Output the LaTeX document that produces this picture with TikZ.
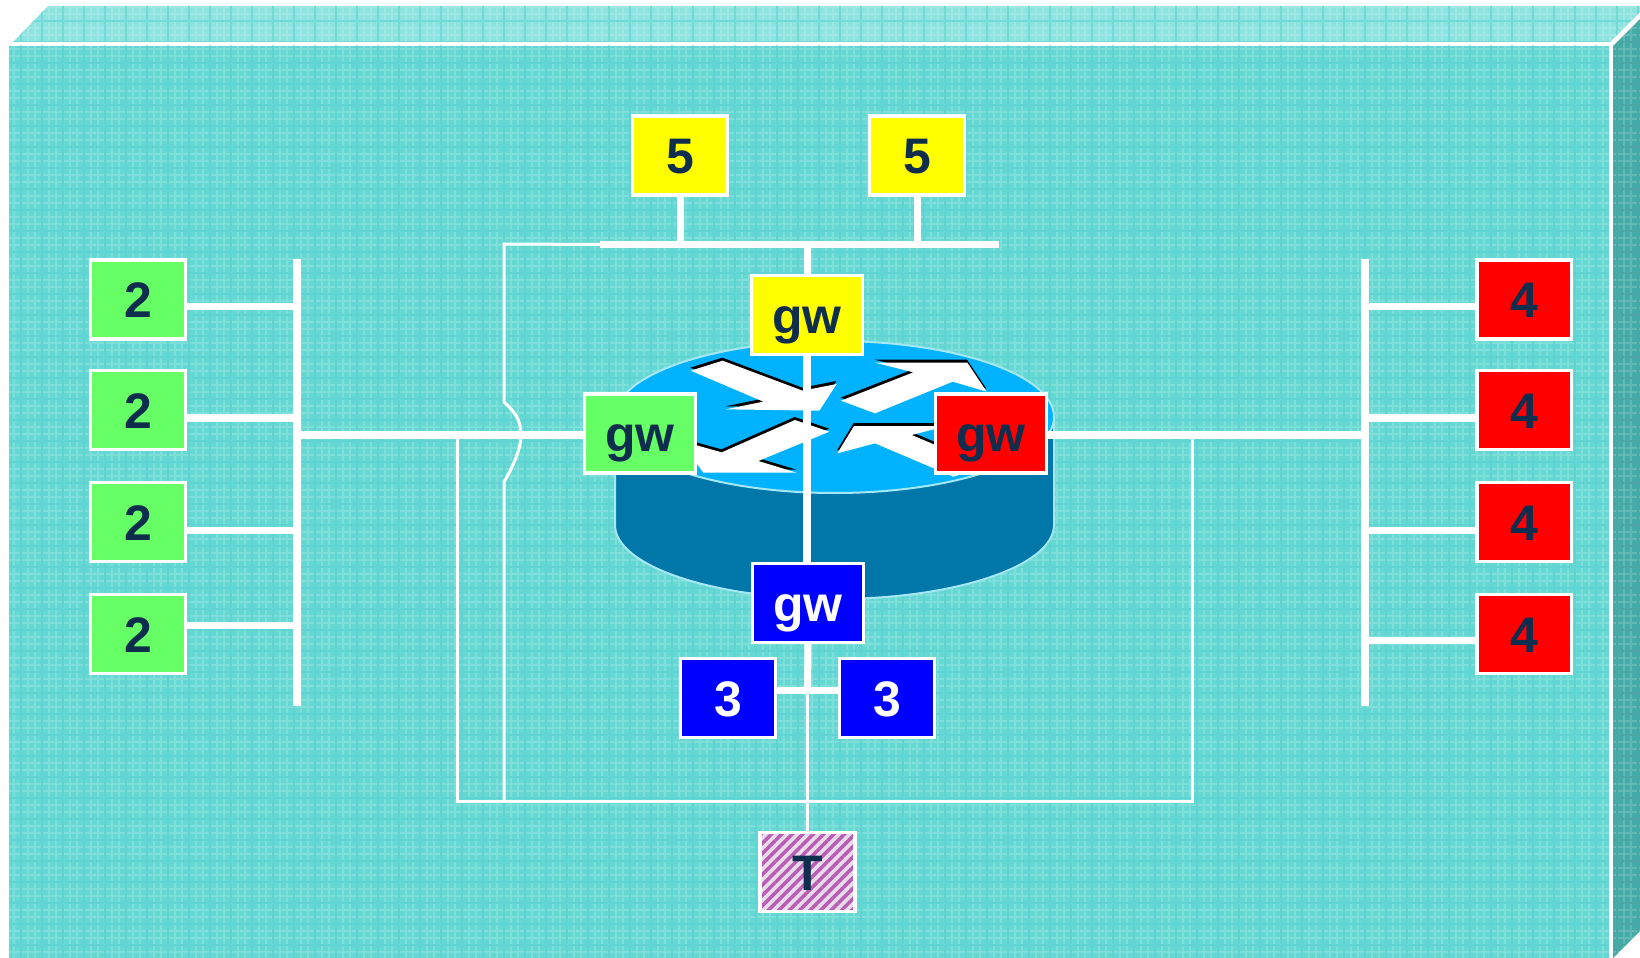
\documentclass[tikz,border=0pt]{standalone}
\usepackage{fontspec}
\setmainfont{Liberation Sans}
\usetikzlibrary{patterns.meta}
\definecolor{facecol}{HTML}{66D8D4}
\definecolor{facegrid}{HTML}{3CC9C9}
\definecolor{topcol}{HTML}{8DE3DF}
\definecolor{sidecol}{HTML}{44ABA8}
\definecolor{sidegrid}{HTML}{2F9391}
\definecolor{routertop}{HTML}{00B2FF}
\definecolor{routerside}{HTML}{0077A8}
\definecolor{routeredge}{HTML}{A5E8F5}
\definecolor{navytext}{HTML}{0F2D4D}
\definecolor{hatchcol}{HTML}{B95CB3}
\definecolor{hatchback}{HTML}{E9DCEA}
\definecolor{greenbox}{HTML}{66FF66}
\definecolor{yellowbox}{HTML}{FFFF00}
\definecolor{redbox}{HTML}{FF0000}
\definecolor{bluebox}{HTML}{0000FF}
\tikzset{
  box/.style={draw=white, line width=0.035cm, minimum width=0.945cm, minimum height=0.785cm, inner sep=0pt, outer sep=0pt, text=navytext, text height=10.4pt, text depth=0pt, font=\fontsize{14.2}{16}\selectfont\bfseries},
  gwbox/.style={box, minimum width=1.11cm, text height=10.4pt, text depth=0pt},
  busline/.style={white, line width=0.075cm},
  linkline/.style={white, line width=0.07cm},
  mainline/.style={white, line width=0.08cm},
  thinline/.style={white, line width=0.03cm},
  facegrain/.style={white, opacity=0.16, line width=0.025cm, xstep=7, ystep=-7},
  facelines/.style={opacity=0.45, line width=0.02cm, xstep=21, ystep=-21}
}
\newcommand{\routerarrow}[1]{\fill[black, shift={(-1,-9)}] #1; \fill[white] #1;}
\begin{document}
\begin{tikzpicture}[x=0.01cm, y=-0.01cm]
\useasboundingbox (0,0) rectangle (1640,958);
\fill[white] (0,0) rectangle (1640,958);
\begin{scope}
\clip (9,46) rectangle (1609,958);
\fill[facecol] (9,46) rectangle (1609,958);
\draw[facegrain] (0,0) grid (1640,958);
\draw[facegrid, facelines] (0,0) grid (1640,958);
\end{scope}
\begin{scope}
\clip (13,42)--(48,6)--(1640,6)--(1640,12)--(1610,42)--cycle;
\fill[topcol] (0,0) rectangle (1640,50);
\draw[facegrain] (0,0) grid (1640,50);
\draw[facegrid, facelines] (0,0) grid (1640,50);
\end{scope}
\begin{scope}
\clip (1613,46)--(1640,19)--(1640,931)--(1613,958)--cycle;
\fill[sidecol] (1610,0) rectangle (1640,958);
\draw[facegrain] (1610,0) grid (1640,958);
\draw[sidegrid, facelines] (1610,0) grid (1640,958);
\end{scope}

\fill[routerside] (615,417)--(615,525) arc[start angle=180, end angle=360, x radius=219.5, y radius=-74]--(1054,417)--cycle;
\draw[routeredge, line width=0.02cm] (615,417)--(615,525) arc[start angle=180, end angle=360, x radius=219.5, y radius=-74]--(1054,417);
\draw[routeredge, line width=0.02cm, fill=routertop] (834.5,417) ellipse[x radius=219.5, y radius=76];
\begin{scope}[shift={(560,320)}, x=0.01cm/3, y=-0.01cm/3]
\routerarrow{(392,152)--(488,122)--(728,212)--(830,192)--(778,272)--(497,268)--(610,245)--cycle}
\routerarrow{(945,128)--(1222,128)--(1280,215)--(1178,185)--(945,280)--(843,242)--(1060,157)--cycle}
\routerarrow{(808,335)--(705,300)--(485,397)--(360,362)--(430,458)--(710,458)--(595,423)--cycle}
\routerarrow{(832,400)--(882,318)--(1160,318)--(1055,345)--(1280,440)--(1180,470)--(945,370)--cycle}
\end{scope}

\node[box, fill=greenbox] (twoa) at (138,299.5) {2};
\node[box, fill=greenbox] (twob) at (138,410) {2};
\node[box, fill=greenbox] (twoc) at (138,522) {2};
\node[box, fill=greenbox] (twod) at (138,634) {2};
\node[box, fill=redbox] (foura) at (1524,299.5) {4};
\node[box, fill=redbox] (fourb) at (1524,410) {4};
\node[box, fill=redbox] (fourc) at (1524,522) {4};
\node[box, fill=redbox] (fourd) at (1524,634) {4};
\node[box, fill=yellowbox] (fivea) at (680,155.5) {5};
\node[box, fill=yellowbox] (fiveb) at (917,155.5) {5};
\node[box, fill=bluebox, text=white] (threea) at (728,698) {3};
\node[box, fill=bluebox, text=white] (threeb) at (887,698) {3};
\node[gwbox, fill=yellowbox] (gwyellow) at (807,315) {gw};
\node[gwbox, fill=greenbox] (gwgreen) at (640,433.5) {gw};
\node[gwbox, fill=redbox] (gwred) at (991,433.5) {gw};
\node[gwbox, fill=bluebox, text=white] (gwblue) at (808,603) {gw};
\node[box, preaction={fill=hatchback}, pattern={Lines[angle=45, distance=2.1pt, line width=1pt]}, pattern color=hatchcol] (tester) at (807.5,872) {T};

\coordinate (lbustop) at (297,259);
\coordinate (lbusbot) at (297,706);
\coordinate (rbustop) at (1365,259);
\coordinate (rbusbot) at (1365,706);
\coordinate (lbusmid) at (297,435);
\coordinate (rbusmid) at (1365,435);
\coordinate (tbusl) at (600,244.5);
\coordinate (tbusr) at (999,244.5);
\coordinate (tbusc) at (807,244.5);
\coordinate (threemid) at (807.5,690);
\coordinate (loopl) at (457,801);
\coordinate (loopr) at (1192,801);
\coordinate (loopmid) at (504,801);
\coordinate (tbuscorner) at (504,244);
\coordinate (bumpa) at (504,402);
\coordinate (bumpb) at (504,482);

\draw[busline] (lbustop)--(lbusbot);
\draw[busline] (rbustop)--(rbusbot);
\draw[linkline] (twoa.east |- 0,306.5)--(297,306.5);
\draw[linkline] (twob.east |- 0,418)--(297,418);
\draw[linkline] (twoc.east |- 0,530)--(297,530);
\draw[linkline] (twod.east |- 0,625)--(297,625);
\draw[linkline] (foura.west |- 0,306.5)--(1365,306.5);
\draw[linkline] (fourb.west |- 0,418)--(1365,418);
\draw[linkline] (fourc.west |- 0,530)--(1365,530);
\draw[linkline] (fourd.west |- 0,640)--(1365,640);
\draw[mainline] (lbusmid)--(gwgreen.west |- lbusmid);
\draw[mainline] (gwred.east |- rbusmid)--(rbusmid);
\draw[linkline] (tbusl)--(tbusr);
\draw[linkline] (fivea.south)--(fivea.south |- tbusc);
\draw[linkline] (fiveb.south)--(fiveb.south |- tbusc);
\draw[linkline] (tbusc)--(gwyellow.north);
\draw[mainline] (gwyellow.south)--(gwyellow.south |- gwblue.north);
\draw[linkline] (gwblue.south)--(threemid);
\draw[linkline] (threea.east |- threemid)--(threeb.west |- threemid);
\draw[thinline] (threemid)--(tester.north);
\draw[thinline] (tbusl)--(tbuscorner)--(bumpa) .. controls (515,412) and (521,420) .. (521,435) .. controls (521,450) and (512,468) .. (bumpb)--(loopmid);
\draw[thinline] (loopl |- lbusmid)--(loopl)--(loopr)--(loopr |- rbusmid);
\end{tikzpicture}
\end{document}
